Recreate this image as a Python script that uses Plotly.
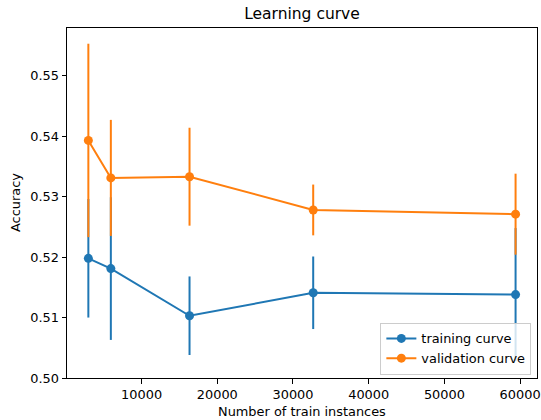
import plotly.graph_objects as go

train_sizes = [2970, 5940, 16335, 32670, 59400]
train_mean = [0.5198, 0.5181, 0.5103, 0.5141, 0.5138]
train_err = [0.0098, 0.0118, 0.0065, 0.0060, 0.0110]
val_mean = [0.5393, 0.5331, 0.5333, 0.5278, 0.5271]
val_err = [0.0160, 0.0096, 0.0081, 0.0042, 0.0067]

blue = "#1f77b4"
orange = "#ff7f0e"
font_family = "DejaVu Sans"
fs = 12.9


def err_segments(xs, means, errs):
    ex, ey = [], []
    for x, m, e in zip(xs, means, errs):
        ex += [x, x, None]
        ey += [m - e, m + e, None]
    return ex, ey


fig = go.Figure()
for name, means, errs, color in [
    ("training curve", train_mean, train_err, blue),
    ("validation curve", val_mean, val_err, orange),
]:
    ex, ey = err_segments(train_sizes, means, errs)
    fig.add_trace(go.Scatter(x=ex, y=ey, mode="lines", showlegend=False, hoverinfo="skip",
                             line=dict(color=color, width=2), legendgroup=name))
    fig.add_trace(go.Scatter(
        x=train_sizes, y=means, mode="lines+markers", name=name, legendgroup=name,
        line=dict(color=color, width=2), marker=dict(color=color, size=9),
    ))

axis_common = dict(
    showgrid=False, zeroline=False, showline=True, linecolor="black", linewidth=1,
    mirror=True, ticks="outside", ticklen=4.5, tickcolor="black", tickwidth=1,
    tickfont=dict(family=font_family, size=fs, color="black"), automargin=False,
)

fig.update_layout(
    width=541, height=420,
    margin=dict(l=67, r=4, t=28, b=42),
    paper_bgcolor="white", plot_bgcolor="white",
    font=dict(family=font_family, size=fs, color="black"),
    title=dict(text="Learning curve", x=0.5, xanchor="center", xref="paper",
               y=1 - 14 / 420, yanchor="middle", font=dict(size=15.5, family=font_family)),
    xaxis=dict(range=[150, 62230], tickvals=[10000, 20000, 30000, 40000, 50000, 60000],
               tickformat="d", **axis_common),
    yaxis=dict(range=[0.50, 0.5579], tickvals=[0.50, 0.51, 0.52, 0.53, 0.54, 0.55],
               tickformat=".2f", **axis_common),
    legend=dict(x=0.988, y=0.01, xanchor="right", yanchor="bottom",
                bgcolor="rgba(255,255,255,0.8)", bordercolor="#cccccc", borderwidth=1,
                itemwidth=30, tracegroupgap=0,
                font=dict(size=fs, family=font_family)),
    showlegend=True,
    annotations=[
        dict(text="Number of train instances", xref="paper", yref="paper",
             x=0.5, y=-24 / 350, xanchor="center", yanchor="top", showarrow=False,
             font=dict(size=fs, family=font_family)),
        dict(text="Accuracy", xref="paper", yref="paper", textangle=-90,
             x=-52 / 470, y=0.5, xanchor="center", yanchor="middle", showarrow=False,
             font=dict(size=fs, family=font_family)),
    ],
)

fig.write_html("out.html", post_script="document.body.style.margin='0';",
               config={"displayModeBar": False})
